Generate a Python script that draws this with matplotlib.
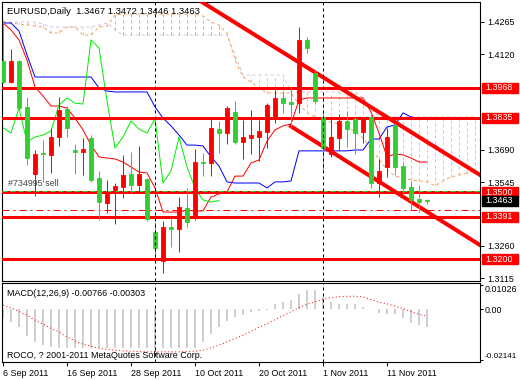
import matplotlib
matplotlib.use('Agg')
import matplotlib.pyplot as plt
from matplotlib.transforms import blended_transform_factory
from matplotlib.patches import Rectangle
import numpy as np

plt.rcParams['font.family'] = ['Liberation Sans', 'DejaVu Sans']

# ---------------- data ----------------
opens = [1.4089, 1.3995, 1.4089, 1.3883, 1.3582, 1.3677, 1.3668, 1.3748, 1.3874, 1.3690,
         1.3681, 1.3744, 1.3565, 1.3453, 1.3511, 1.3524, 1.3582, 1.3533, 1.3560, 1.3323,
         1.3193, 1.3345, 1.3336, 1.3430, 1.3385, 1.3636, 1.3632, 1.3784, 1.3766, 1.3860,
         1.3726, 1.3744, 1.3748, 1.3771, 1.3829, 1.3923, 1.3905, 1.3900, 1.4183, 1.4035,
         1.3838, 1.3672, 1.3744, 1.3820, 1.3829, 1.3771, 1.3838, 1.3542, 1.3614, 1.3802,
         1.3618, 1.3524, 1.3470, 1.3467]
highs = [1.4272, 1.4142, 1.4093, 1.3927, 1.3690, 1.3735, 1.3789, 1.3927, 1.3887, 1.3717,
         1.3744, 1.3757, 1.3596, 1.3556, 1.3542, 1.3668, 1.3681, 1.3708, 1.3565, 1.3367,
         1.3372, 1.3385, 1.3479, 1.3520, 1.3694, 1.3677, 1.3829, 1.3820, 1.3887, 1.3909,
         1.3824, 1.3869, 1.3824, 1.3900, 1.3959, 1.3954, 1.3972, 1.4241, 1.4196, 1.4053,
         1.3856, 1.3833, 1.3851, 1.3865, 1.3842, 1.3838, 1.3856, 1.3650, 1.3789, 1.3811,
         1.3636, 1.3551, 1.3533, 1.3472]
lows = [1.3990, 1.3990, 1.3869, 1.3623, 1.3484, 1.3547, 1.3587, 1.3708, 1.3748, 1.3582,
        1.3578, 1.3547, 1.3376, 1.3408, 1.3358, 1.3475, 1.3497, 1.3497, 1.3372, 1.3211,
        1.3139, 1.3255, 1.3233, 1.3345, 1.3376, 1.3573, 1.3573, 1.3677, 1.3717, 1.3717,
        1.3650, 1.3672, 1.3641, 1.3699, 1.3811, 1.3856, 1.3793, 1.3856, 1.4125, 1.3900,
        1.3600, 1.3659, 1.3690, 1.3704, 1.3672, 1.3722, 1.3520, 1.3479, 1.3569, 1.3582,
        1.3488, 1.3421, 1.3412, 1.3446]
closes = [1.3995, 1.4089, 1.3878, 1.3654, 1.3672, 1.3670, 1.3748, 1.3869, 1.3789, 1.3681,
          1.3694, 1.3556, 1.3457, 1.3497, 1.3529, 1.3578, 1.3533, 1.3582, 1.3381, 1.3251,
          1.3345, 1.3336, 1.3435, 1.3367, 1.3636, 1.3632, 1.3789, 1.3766, 1.3878, 1.3726,
          1.3748, 1.3757, 1.3775, 1.3892, 1.3923, 1.3900, 1.3896, 1.4183, 1.4147, 1.3909,
          1.3699, 1.3748, 1.3820, 1.3784, 1.3766, 1.3829, 1.3542, 1.3596, 1.3748, 1.3614,
          1.3520, 1.3466, 1.3457, 1.3463]

tenkan = [1.4259, 1.4228, 1.4183, 1.4093, 1.3972, 1.3932, 1.3887, 1.3887, 1.3878, 1.3833,
          1.3780, 1.3712, 1.3659, 1.3654, 1.3650, 1.3636, 1.3614, 1.3591, 1.3587, 1.3520,
          1.3412, 1.3412, 1.3412, 1.3421, 1.3417, 1.3417, 1.3479, 1.3493, 1.3502, 1.3573,
          1.3573, 1.3632, 1.3645, 1.3730, 1.3780, 1.3798, 1.3806, 1.3914, 1.3923, 1.3923,
          1.3923, 1.3923, 1.3923, 1.3923, 1.3923, 1.3923, 1.3860, 1.3766, 1.3659, 1.3672,
          1.3668, 1.3654, 1.3636, 1.3636]
kijun = [1.4259, 1.4259, 1.4223, 1.4116, 1.4017, 1.4017, 1.4017, 1.4017, 1.4017, 1.4017,
         1.4017, 1.4017, 1.3968, 1.3954, 1.3950, 1.3950, 1.3950, 1.3950, 1.3950, 1.3883,
         1.3833, 1.3798, 1.3757, 1.3712, 1.3712, 1.3708, 1.3659, 1.3618, 1.3547, 1.3542,
         1.3542, 1.3542, 1.3542, 1.3520, 1.3547, 1.3547, 1.3551, 1.3686, 1.3686, 1.3686,
         1.3686, 1.3686, 1.3686, 1.3686, 1.3690, 1.3690, 1.3739, 1.3739, 1.3793, 1.3802,
         1.3856, 1.3838, 1.3833, 1.3833]
span_a = [1.4263, 1.4259, 1.4254, 1.4250, 1.4245, 1.4241, 1.4214, 1.4214, 1.4241, 1.4241,
          1.4205, 1.4205, 1.4241, 1.4245, 1.4295, 1.4299, 1.4299, 1.4299, 1.4299, 1.4299,
          1.4299, 1.4299, 1.4299, 1.4299, 1.4299, 1.4290, 1.4263, 1.4250, 1.4214, 1.4093,
          1.4017, 1.3995, 1.3968, 1.3945, 1.3945, 1.3945, 1.3945, 1.3896, 1.3856, 1.3838,
          1.3820, 1.3815, 1.3806, 1.3793, 1.3771, 1.3744, 1.3694, 1.3650, 1.3600, 1.3573,
          1.3565, 1.3556, 1.3551, 1.3547, 1.3529, 1.3551, 1.3569, 1.3578, 1.3587, 1.3596]
span_b = [1.4263, 1.4263, 1.4263, 1.4263, 1.4263, 1.4254, 1.4241, 1.4241, 1.4241, 1.4241,
          1.4241, 1.4241, 1.4250, 1.4259, 1.4228, 1.4205, 1.4205, 1.4205, 1.4205, 1.4205,
          1.4205, 1.4205, 1.4205, 1.4205, 1.4205, 1.4205, 1.4205, 1.4205, 1.4205, 1.4116,
          1.4026, 1.4026, 1.4026, 1.4026, 1.4026, 1.4026, 1.3950, 1.3950, 1.3950, 1.3950,
          1.3950, 1.3950, 1.3950, 1.3950, 1.3950, 1.3923, 1.3883, 1.3838, 1.3838, 1.3838,
          1.3838, 1.3838, 1.3838, 1.3838, 1.3838, 1.3838, 1.3838, 1.3838, 1.3838, 1.3838]

macd_hist = [-0.0039, -0.0053, -0.0075, -0.0114, -0.0138, -0.0152, -0.0159, -0.0162, -0.0162, -0.0162,
             -0.0162, -0.0162, -0.0162, -0.0162, -0.0162, -0.0162, -0.0162, -0.0162, -0.0162, -0.0162,
             -0.0162, -0.0162, -0.0162, -0.0162, -0.0162, -0.0138, -0.0103, -0.0075, -0.0051, -0.0032,
             -0.0025, -0.0011, -0.0007, -0.0002, 0.0024, 0.0031, 0.0041, 0.0066, 0.0083, 0.0080,
             0.0052, 0.0031, 0.0024, 0.0024, 0.0024, 0.0010, -0.0001, -0.0015, -0.0018, -0.0018,
             -0.0039, -0.0058, -0.0068, -0.00766]
macd_signal = [0.0017, 0.0006, -0.0010, -0.0025, -0.0046, -0.0063, -0.0080, -0.0096, -0.0117, -0.0134,
               -0.0148, -0.0156, -0.0165, -0.0169, -0.0173, -0.0176, -0.0177, -0.0179, -0.0180, -0.0180,
               -0.0180, -0.0180, -0.0180, -0.0179, -0.0177, -0.0173, -0.0163, -0.0152, -0.0138, -0.0124,
               -0.0110, -0.0093, -0.0077, -0.0061, -0.0044, -0.0027, -0.0010, 0.0007, 0.0021, 0.0031,
               0.0042, 0.0049, 0.0053, 0.0055, 0.0055, 0.0052, 0.0041, 0.0030, 0.0023, 0.0013,
               0.0003, -0.0010, -0.0021, -0.00303]

level_lines = [1.3968, 1.3835, 1.3500, 1.3391, 1.3200]
order_price = 1.3507
stop_price = 1.3421
bid = 1.3463
upper_trend = [(25, 1.4350), (59, 1.3592)]
lower_trend = [(36, 1.3796), (59, 1.3278)]
month_starts = [19, 40]
price_ticks = [1.4265, 1.4120, 1.3690, 1.3545, 1.3260, 1.3115]
date_pos = [0, 8, 16, 24, 32, 40, 48]
date_labels = ['6 Sep 2011', '16 Sep 2011', '28 Sep 2011', '10 Oct 2011',
               '20 Oct 2011', '1 Nov 2011', '11 Nov 2011']

# ---------------- figure ----------------
W, H = 520, 380
PX = 0.72  # points per pixel at dpi 100
fig = plt.figure(figsize=(W / 100, H / 100), dpi=100)
fig.patch.set_facecolor('white')


def frame(x0, y0, x1, y1):
    return [x0 / W, 1 - y1 / H, (x1 - x0) / W, (y1 - y0) / H]


ax = fig.add_axes(frame(2, 2, 480, 281))
mx = fig.add_axes(frame(2, 283, 480, 362), sharex=ax)

BULL = '#FF0000'
BEAR = '#32CD32'
FS = 6.4

idx = np.arange(len(opens))
o = np.array(opens); c = np.array(closes)
hi = np.array(highs); lo = np.array(lows)
cols = np.where(c >= o, BULL, BEAR)

# cloud
xs = np.arange(len(span_a))
sa = np.array(span_a); sb = np.array(span_b)
for i in xs:
    colr = '#F4A460' if sa[i] >= sb[i] else '#D8BFD8'
    ax.vlines(i, min(sa[i], sb[i]), max(sa[i], sb[i]), color=colr,
              lw=PX, linestyles=(0, (3, 3)), zorder=1)
ax.plot(xs, sb, color='#D8BFD8', lw=PX, ls=(0, (3, 3)), zorder=1.2)
ax.plot(xs, sa, color='#F4A460', lw=PX, ls=(0, (3, 3)), zorder=1.2)

# ichimoku lines
ax.plot(idx, kijun, color='#0000FF', lw=PX, zorder=2)
ax.plot(idx, tenkan, color='#FF0000', lw=PX, zorder=2)
nshift = 26
ax.plot(idx[:len(closes) - nshift], closes[nshift:], color='#00EE00', lw=PX, zorder=2)

# horizontal levels
for lv in level_lines:
    ax.axhline(lv, color='#FF0000', lw=3 * PX, zorder=3)
ax.axhline(order_price, color=BEAR, lw=PX, ls=(0, (5, 3)), zorder=3)
ax.axhline(stop_price, color='#FF0000', lw=PX, ls=(0, (7, 4, 2, 4)), zorder=3)

# trend lines
ax.axline(upper_trend[0], upper_trend[1], color='#FF0000', lw=4 * PX, zorder=3)
(x1, y1), (x2, y2) = lower_trend
slope = (y2 - y1) / (x2 - x1)
ax.plot([x1, 62], [y1, y1 + slope * (62 - x1)], color='#FF0000', lw=4 * PX, zorder=3)

# candles
ax.vlines(idx, lo, hi, colors=cols, lw=PX, zorder=4)
ax.bar(idx, np.abs(c - o), bottom=np.minimum(o, c), width=0.55, color=cols,
       edgecolor=cols, lw=0.6, zorder=5)

# month separators
for a in (ax, mx):
    for m in month_starts:
        a.axvline(m, color='black', lw=PX, ls=(0, (3, 3)), zorder=6)

ax.set_xlim(-0.125, 59.625)
ax.set_ylim(1.3103, 1.4353)

for a in (ax, mx):
    for s in a.spines.values():
        s.set_color('black'); s.set_linewidth(0.8)
    a.set_facecolor('white')

ax.yaxis.tick_right()
ax.set_yticks(price_ticks)
ax.set_yticklabels([f'{t:.4f}' for t in price_ticks])
ax.tick_params(axis='y', direction='out', length=3, width=0.7, pad=2, labelsize=FS)
ax.tick_params(axis='x', bottom=False, labelbottom=False)

# price labels on right axis
bt = blended_transform_factory(ax.transAxes, ax.transData)
box_h = 10 * (1.4353 - 1.3103) / 279
box_w = 36 / 478
for lv in level_lines + [bid]:
    fc = 'black' if lv == bid else '#FF0000'
    ax.add_patch(Rectangle((1.0042, lv - box_h / 2), box_w, box_h, transform=bt,
                           facecolor=fc, edgecolor=fc, clip_on=False, zorder=10))
    ax.text(1.0105, lv, f'{lv:.4f}', transform=bt, color='white', fontsize=FS,
            va='center', ha='left', clip_on=False, zorder=11)

# MACD panel
mx.vlines(idx, 0, macd_hist, color='#C0C0C0', lw=1.5 * PX, zorder=2)
mx.plot(idx, macd_signal, color='#FF0000', lw=PX, ls=(0, (1, 2.5)), zorder=3)
mx.set_ylim(-0.0223, 0.0111)
mx.yaxis.tick_right()
mticks = [0.01026, 0.0, -0.02141]
mx.set_yticks(mticks)
mx.set_yticklabels(['0.01026', '0.00', '-0.02141'])
mx.tick_params(axis='y', direction='out', length=2.5, width=0.7, pad=1, labelsize=FS)
tl = mx.get_yticklabels()
tl[0].set_va('top'); tl[2].set_va('bottom'); tl[2].set_fontsize(5.9)
mx.set_xticks(date_pos)
mx.set_xticklabels(date_labels, ha='left')
mx.tick_params(axis='x', direction='out', length=3, width=0.7, pad=2, labelsize=FS)

# texts
fig.text(7 / W, 1 - 11 / H, 'EURUSD,Daily  1.3467 1.3472 1.3446 1.3463',
         fontsize=6.8, va='center', ha='left', color='black')
fig.text(8 / W, 1 - 184 / H, '#734995 sell', fontsize=FS, va='center', ha='left',
         color='#444444')
fig.text(7 / W, 1 - 294 / H, 'MACD(12,26,9) -0.00766 -0.00303', fontsize=FS,
         va='center', ha='left', color='black')
fig.text(7 / W, 1 - 355 / H, 'ROCO, ? 2001-2011 MetaQuotes Software Corp.',
         fontsize=FS, va='center', ha='left', color='black')

fig.savefig('out.png', dpi=100, facecolor='white')
